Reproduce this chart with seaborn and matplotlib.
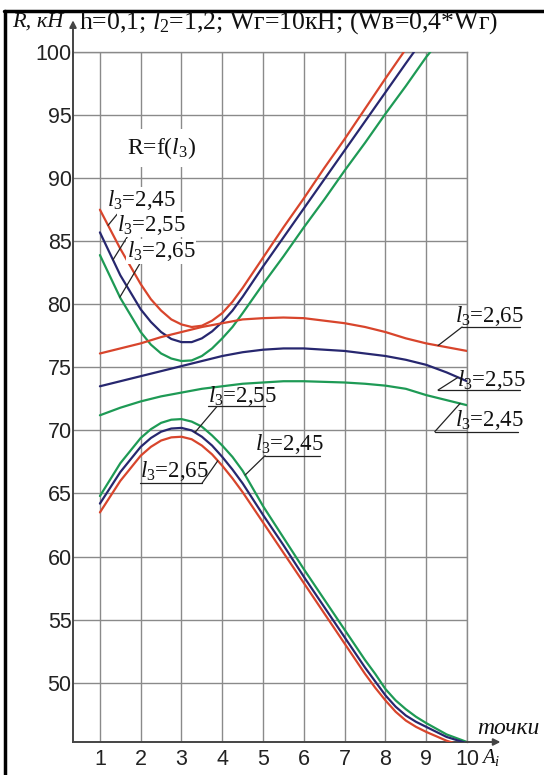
import numpy as np
import pandas as pd
import matplotlib
matplotlib.use("Agg")
import matplotlib.pyplot as plt
from matplotlib.lines import Line2D
import seaborn as sns

# ---- data: R (kN) versus point number A_i for three values of l3 ----
# upper U-shaped family
up_x_245 = [1, 1.5, 2, 2.25, 2.5, 2.75, 3, 3.25, 3.5, 3.75, 4, 4.25, 4.5, 5, 5.5, 6, 6.5, 7, 7.5, 8, 8.45]
up_r_245 = [87.5, 84.4, 81.6, 80.4, 79.5, 78.8, 78.4, 78.2, 78.3, 78.7, 79.3, 80.2, 81.3, 83.7, 86.1, 88.4,
            90.8, 93.1, 95.5, 97.9, 100.0]
up_x_255 = [1, 1.5, 2, 2.25, 2.5, 2.75, 3, 3.25, 3.5, 3.75, 4, 4.25, 4.5, 5, 5.5, 6, 6.5, 7, 7.5, 8, 8.5, 8.7]
up_r_255 = [85.7, 82.3, 79.6, 78.6, 77.8, 77.25, 77.0, 77.0, 77.3, 77.85, 78.6, 79.5, 80.6, 83.0, 85.3, 87.6,
            89.9, 92.2, 94.5, 96.8, 99.1, 100.0]
up_x_265 = [1, 1.5, 2, 2.25, 2.5, 2.75, 3, 3.25, 3.5, 3.75, 4, 4.25, 4.5, 5, 5.5, 6, 6.5, 7, 7.5, 8, 8.5, 9, 9.1]
up_r_265 = [83.9, 80.5, 77.8, 76.8, 76.1, 75.7, 75.5, 75.55, 75.9, 76.5, 77.3, 78.2, 79.3, 81.6, 83.8, 86.1,
            88.3, 90.6, 92.8, 95.1, 97.3, 99.6, 100.0]

# middle flat family
mid_x = [1, 1.5, 2, 2.5, 3, 3.5, 4, 4.5, 5, 5.5, 6, 6.5, 7, 7.5, 8, 8.5, 9, 9.5, 10]
mid_r_265 = [76.1, 76.5, 76.9, 77.4, 77.8, 78.2, 78.5, 78.8, 78.9, 78.95, 78.9, 78.7, 78.5, 78.2, 77.8, 77.3,
             76.9, 76.6, 76.3]
mid_r_255 = [73.5, 73.9, 74.3, 74.7, 75.1, 75.5, 75.9, 76.2, 76.4, 76.5, 76.5, 76.4, 76.3, 76.1, 75.9, 75.6,
             75.2, 74.6, 73.9]
mid_r_245 = [71.2, 71.8, 72.3, 72.7, 73.0, 73.3, 73.5, 73.7, 73.8, 73.9, 73.9, 73.85, 73.8, 73.7, 73.55, 73.3,
             72.8, 72.4, 72.0]

# lower humped family
low_x = [1, 1.5, 2, 2.25, 2.5, 2.75, 3, 3.25, 3.5, 3.75, 4, 4.25, 4.5, 5, 5.5, 6, 6.5, 7, 7.5, 7.75, 8, 8.25,
         8.5, 8.75, 9, 9.5, 10]
low_r_245 = [64.8, 67.4, 69.4, 70.1, 70.6, 70.85, 70.9, 70.7, 70.3, 69.6, 68.8, 67.9, 66.8, 64.0, 61.5, 59.0,
             56.6, 54.2, 51.8, 50.7, 49.5, 48.6, 47.9, 47.3, 46.8, 45.9, 45.3]
low_r_255 = [64.2, 66.7, 68.7, 69.4, 69.9, 70.15, 70.2, 70.0, 69.5, 68.8, 67.9, 66.9, 65.8, 63.3, 60.9, 58.4,
             56.0, 53.6, 51.2, 50.1, 49.0, 48.1, 47.4, 46.9, 46.5, 45.7, 45.2]
low_r_265 = [63.5, 66.0, 68.0, 68.7, 69.2, 69.45, 69.5, 69.3, 68.8, 68.1, 67.2, 66.2, 65.1, 62.7, 60.3, 57.9,
             55.5, 53.1, 50.7, 49.6, 48.6, 47.7, 47.0, 46.5, 46.1, 45.4, 44.9]

x_ticks = [1, 2, 3, 4, 5, 6, 7, 8, 9, 10]
y_ticks = [50, 55, 60, 65, 70, 75, 80, 85, 90, 95, 100]

RED, BLUE, GREEN = "#d8452c", "#27276f", "#1e9a55"

sns.set_theme(style="white")
plt.rcParams["font.family"] = ["Liberation Sans", "DejaVu Sans"]
plt.rcParams["mathtext.fontset"] = "custom"
plt.rcParams["mathtext.rm"] = "Liberation Serif"
plt.rcParams["mathtext.it"] = "Liberation Serif:italic"

fig = plt.figure(figsize=(5.44, 7.75), dpi=100)
ax = fig.add_axes([73 / 544, 1 - 742 / 775, (467 - 73) / 544, (742 - 52) / 775])

series = [
    (up_x_245, up_r_245, RED), (up_x_255, up_r_255, BLUE), (up_x_265, up_r_265, GREEN),
    (mid_x, mid_r_265, RED), (mid_x, mid_r_255, BLUE), (mid_x, mid_r_245, GREEN),
    (low_x, low_r_245, GREEN), (low_x, low_r_255, BLUE), (low_x, low_r_265, RED),
]
for xs, ys, col in series:
    df = pd.DataFrame({"A": xs, "R": ys})
    sns.lineplot(data=df, x="A", y="R", color=col, lw=1.6, ax=ax, zorder=3)

ax.set_xlim(0.34, 10.0)
ax.set_ylim(45.3, 100)
ax.set_xticks(x_ticks)
ax.set_yticks(y_ticks)
ax.set_xlabel("")
ax.set_ylabel("")
ax.grid(True, color="#8a8a8a", lw=1.0, zorder=0)
for side in ("top", "right"):
    ax.spines[side].set_color("#8a8a8a")
    ax.spines[side].set_linewidth(1.0)
for side in ("left", "bottom"):
    ax.spines[side].set_color("#444444")
    ax.spines[side].set_linewidth(1.4)
ax.tick_params(axis="both", length=0, labelsize=15.5, colors="#222222")
ax.tick_params(axis="x", pad=5)
ax.tick_params(axis="y", pad=1)

# axis arrows
ax.annotate("", xy=(0, 1.05), xytext=(0, 0.99), xycoords="axes fraction",
            arrowprops=dict(arrowstyle="-|>", color="#444444", lw=1.4, mutation_scale=10),
            annotation_clip=False)
ax.annotate("", xy=(1.092, 0), xytext=(0.99, 0), xycoords="axes fraction",
            arrowprops=dict(arrowstyle="-|>", color="#444444", lw=1.4, mutation_scale=10),
            annotation_clip=False)

serif = "Liberation Serif"
fig.text(12 / 544, 1 - 22 / 775, "R, кН", family=serif, style="italic", fontsize=16,
         va="center", ha="left", color="#111111")
fig.text(79 / 544, 1 - 23 / 775, r"h=0,1; $\mathit{l_2}$=1,2; Wг=10кН; (Wв=0,4*Wг)",
         family=serif, fontsize=18.5, va="center", ha="left", color="#111111")
fig.text(508 / 544, 1 - 728 / 775, "точки", family=serif, style="italic", fontsize=17,
         va="center", ha="center", color="#111111")
fig.text(491 / 544, 1 - 757 / 775, r"$\mathit{A_i}$", fontsize=15,
         va="center", ha="center", color="#111111")

ax.text(2.5, 92.4, r"R=f($\mathit{l_3}$)", family=serif, fontsize=17, ha="center", va="center",
        color="#111111", zorder=4, bbox=dict(fc="white", ec="none", pad=4))

def lbl(v):
    return r"$\mathit{l_3}$=" + v

TXT = dict(family=serif, fontsize=16.5, color="#111111", zorder=5)
LEAD = dict(color="#222222", lw=0.9, zorder=4)

# left labels for the upper family
left_labels = [("2,45", 1.17, 88.3, 1.54, 87.6, 1.20, up_x_245, up_r_245),
               ("2,55", 1.42, 86.3, 1.74, 85.7, 1.32, up_x_255, up_r_255),
               ("2,65", 1.66, 84.2, 2.03, 83.5, 1.49, up_x_265, up_r_265)]
for v, tx, ty, x0, y0, x1, cx, cy in left_labels:
    ax.text(tx, ty, lbl(v), ha="left", va="center",
            bbox=dict(fc="white", ec="none", pad=0.3), **TXT)
    ax.add_line(Line2D([x0, x1], [y0, np.interp(x1, cx, cy)], **LEAD))

# right labels for the middle family: text, underline, leader end on curve
right_labels = [("2,65", 9.70, 79.1, 9.88, 11.30, 78.2, 9.29, mid_r_265),
                ("2,55", 9.75, 74.0, 9.29, 11.30, 73.2, 9.78, mid_r_255),
                ("2,45", 9.70, 70.8, 9.21, 11.25, 69.9, 9.83, mid_r_245)]
for v, tx, ty, u0, u1, uy, cxp, cy in right_labels:
    ax.text(tx, ty, lbl(v), ha="left", va="center", clip_on=False, **TXT)
    ax.add_line(Line2D([u0, u1], [uy, uy], clip_on=False, **LEAD))
    ax.add_line(Line2D([u0, cxp], [uy, np.interp(cxp, mid_x, cy)], clip_on=False, **LEAD))

# labels for the lower family
low_labels = [("2,55", 3.65, 72.75, 3.65, 5.05, 71.9, 3.87, 3.33, low_r_255),
              ("2,65", 1.98, 66.75, 1.98, 3.50, 65.8, 3.50, 3.89, low_r_265),
              ("2,45", 4.80, 68.95, 5.05, 6.39, 68.0, 5.05, 4.56, low_r_245)]
for v, tx, ty, u0, u1, uy, ls, le, cy in low_labels:
    ax.text(tx, ty, lbl(v), ha="left", va="center", **TXT)
    ax.add_line(Line2D([u0, u1], [uy, uy], **LEAD))
    ax.add_line(Line2D([ls, le], [uy, np.interp(le, low_x, cy)], **LEAD))

# frame lines along the top and left edges
fig.add_artist(Line2D([4 / 544, 1.0], [1 - 11 / 775, 1 - 11 / 775], color="black", lw=2.5,
                      transform=fig.transFigure))
fig.add_artist(Line2D([5 / 544, 5 / 544], [0, 1 - 11 / 775], color="black", lw=2.5,
                      transform=fig.transFigure))

fig.savefig("out.png", dpi=100)
